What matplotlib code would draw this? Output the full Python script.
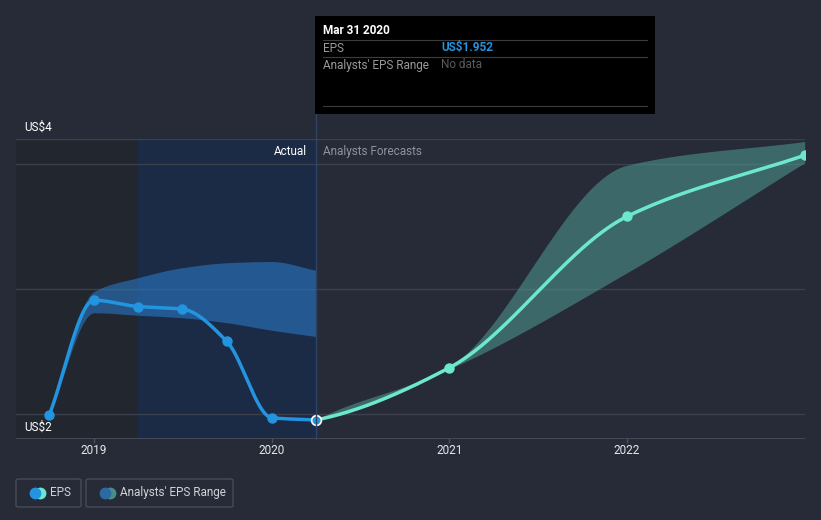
import numpy as np
import pandas as pd
import matplotlib
matplotlib.use("Agg")
import matplotlib.pyplot as plt
from matplotlib.patches import Rectangle, FancyBboxPatch

plt.rcParams['font.family'] = ['Roboto', 'DejaVu Sans']

# ---------------- data ----------------
actual_dates = ["2018-09-30", "2018-12-31", "2019-03-31", "2019-06-30",
                "2019-09-30", "2019-12-31", "2020-03-31"]
actual_eps = [1.99, 2.91, 2.86, 2.84, 2.58, 1.97, 1.952]

hist_range_dates = ["2018-09-30", "2018-12-31", "2019-03-31", "2019-06-30",
                    "2019-09-30", "2019-12-31", "2020-03-31"]
hist_range_low = [1.99, 2.81, 2.79, 2.77, 2.73, 2.67, 2.62]
hist_range_high = [1.99, 2.98, 3.09, 3.17, 3.21, 3.22, 3.15]

fc_dates = ["2020-03-31", "2020-12-31", "2021-12-31", "2022-12-31"]
fc_eps = [1.952, 2.37, 3.58, 4.07]
fc_low = [1.952, 2.36, 3.13, 4.01]
fc_high = [1.952, 2.38, 3.99, 4.18]

year_ticks = [2019, 2020, 2021, 2022]
y_labels = ["US$4", "US$2"]
tooltip_date = "Mar 31 2020"
tooltip_eps = "US$1.952"

# ---------------- helpers ----------------
def dec_year(ds):
    out = []
    for d in ds:
        t = pd.Timestamp(d) + pd.Timedelta(days=1)
        start = pd.Timestamp(year=t.year, month=1, day=1)
        end = pd.Timestamp(year=t.year + 1, month=1, day=1)
        out.append(t.year + (t - start) / (end - start))
    return np.array(out)

def monotone(x, y, n=200, m0=None):
    x = np.asarray(x, float); y = np.asarray(y, float)
    h = np.diff(x); d = np.diff(y) / h
    m = np.zeros_like(y)
    m[0] = d[0]; m[-1] = d[-1]
    for i in range(1, len(y) - 1):
        if d[i - 1] * d[i] <= 0:
            m[i] = 0
        else:
            w1 = 2 * h[i] + h[i - 1]; w2 = h[i] + 2 * h[i - 1]
            m[i] = (w1 + w2) / (w1 / d[i - 1] + w2 / d[i])
    if m0 is not None:
        m[0] = m0 * d[0]
    xs, ys = [], []
    for i in range(len(h)):
        t = np.linspace(0, 1, n)
        h00 = 2*t**3 - 3*t**2 + 1; h10 = t**3 - 2*t**2 + t
        h01 = -2*t**3 + 3*t**2; h11 = t**3 - t**2
        xs.append(x[i] + t * h[i])
        ys.append(h00*y[i] + h10*h[i]*m[i] + h01*y[i+1] + h11*h[i]*m[i+1])
    return np.concatenate(xs), np.concatenate(ys)

W, H = 821, 520
def fx(px): return px / W
def fy(py): return 1 - py / H

BG = "#262b37"
BLUE = "#2394df"
TEAL = "#6de8cf"
GRID = "#3b404c"

fig = plt.figure(figsize=(W / 100, H / 100), dpi=100, facecolor=BG)
ax = fig.add_axes([fx(16), fy(439), fx(805) - fx(16), fy(139) - fy(439)])
ax.set_facecolor(BG)
ax.set_xlim(2018.561, 2023.002)
ax.set_ylim(1.8, 4.2)
for s in ax.spines.values():
    s.set_visible(False)
ax.set_xticks([]); ax.set_yticks([])

xa = dec_year(actual_dates)
xh = dec_year(hist_range_dates)
xf = dec_year(fc_dates)

# shaded past regions
ax.axvspan(2018.561, xa[2], color="#22262f", zorder=0, lw=0)
ax.axvspan(xa[2], xa[-1], color="#1b2a45", zorder=0, lw=0)

# gridlines
for yv in [4.2, 4.0, 3.0, 2.0]:
    ax.axhline(yv, color=GRID, lw=1, zorder=1)
ax.axhline(1.8, color="#4a4f5b", lw=1.2, zorder=1)

# tick marks & labels
for yr in year_ticks:
    ax.plot([yr, yr], [1.8, 1.78], color="#4a4f5b", lw=1, clip_on=False, zorder=1)
    fig.text(fx(94 + (yr - 2019) * 177.67), fy(451), str(yr), color="#e8e8e8",
             fontsize=8.5, ha="center", va="center")

# historic analyst range
bx, bl = monotone(xh, hist_range_low)
_, bu = monotone(xh, hist_range_high)
ax.fill_between(bx, bl, bu, color="#2a7fd0", alpha=0.55, lw=0, zorder=2)

# forecast range
fxs, fl = monotone(xf, fc_low, m0=0.5)
_, fu = monotone(xf, fc_high, m0=1.35)
ax.fill_between(fxs, fl, fu, color="#4f9c95", alpha=0.55, lw=0, zorder=2)

# lines
ax_x, ax_y = monotone(xa, actual_eps)
ax.plot(ax_x, ax_y, color=BLUE, lw=2.5, zorder=4, solid_capstyle="round")
fx_x, fx_y = monotone(xf, fc_eps, m0=0.5)
ax.plot(fx_x, fx_y, color=TEAL, lw=2.5, zorder=4, solid_capstyle="round")
ax.plot(xa[:-1], actual_eps[:-1], "o", color=BLUE, ms=6.5, zorder=5)
ax.plot(xf[1:], fc_eps[1:], "o", color=TEAL, ms=6.5, zorder=5)
ax.plot([xa[-1]], [actual_eps[-1]], "o", color=BLUE, ms=7, mec="white", mew=1.2,
        zorder=6)

# vertical divider
fig.add_artist(plt.Line2D([fx(315.5), fx(315.5)], [fy(439), fy(114)],
                          color="#2d4466", lw=1, zorder=3))

# y labels
fig.text(fx(24), fy(127), y_labels[0], color="white", fontsize=8.5, ha="left", va="center")
fig.text(fx(24), fy(427), y_labels[1], color="white", fontsize=8.5, ha="left", va="center")

# actual / forecast labels
fig.text(fx(307), fy(151), "Actual", color="white", fontsize=8.5, ha="right", va="center")
fig.text(fx(323), fy(151), "Analysts Forecasts", color="#8d929b", fontsize=8.5,
         ha="left", va="center")

# tooltip
fig.add_artist(Rectangle((fx(315), fy(114)), fx(655) - fx(315), fy(16) - fy(114),
                         transform=fig.transFigure, facecolor="black", edgecolor="none",
                         zorder=10))
for ly in [40, 57, 106]:
    fig.add_artist(plt.Line2D([fx(323), fx(647)], [fy(ly), fy(ly)],
                              color="#3c3c3c", lw=0.8, zorder=11))
fig.text(fx(323), fy(30.5), tooltip_date, color="white", fontsize=8.5, fontweight="bold",
         ha="left", va="center", zorder=12)
fig.text(fx(323), fy(48), "EPS", color="#9a9a9a", fontsize=8.5, ha="left", va="center",
         zorder=12)
fig.text(fx(441), fy(48), tooltip_eps, color="#2394df", fontsize=8.5, fontweight="bold",
         ha="left", va="center", zorder=12)
fig.text(fx(323), fy(65), "Analysts' EPS Range", color="#9a9a9a", fontsize=8.5,
         ha="left", va="center", zorder=12)
fig.text(fx(441), fy(65), "No data", color="#5a5a5a", fontsize=8.5, ha="left",
         va="center", zorder=12)

# legend
def legend_box(x0, x1, c1, c2, label):
    fig.add_artist(FancyBboxPatch((fx(x0), fy(507)), fx(x1) - fx(x0), fy(479) - fy(507),
                                  boxstyle="round,pad=0,rounding_size=0.003",
                                  transform=fig.transFigure, facecolor="none",
                                  edgecolor="#474c58", lw=1))
    fig.add_artist(plt.Line2D([fx(x0 + 24)], [fy(492.5)], marker="o", ms=8.5,
                              color=c2, mec="none", lw=0))
    fig.add_artist(plt.Line2D([fx(x0 + 19)], [fy(492.5)], marker="o", ms=8.5,
                              color=c1, mec="none", lw=0))
    fig.text(fx(x0 + 34), fy(492.5), label, color="#d0d3d8", fontsize=8.5,
             ha="left", va="center")

legend_box(16, 81, "#2394df", "#6de8cf", "EPS")
legend_box(86, 233, "#2b6aa3", "#4a8c8a", "Analysts' EPS Range")

fig.savefig("out.png", dpi=100, facecolor=BG)
